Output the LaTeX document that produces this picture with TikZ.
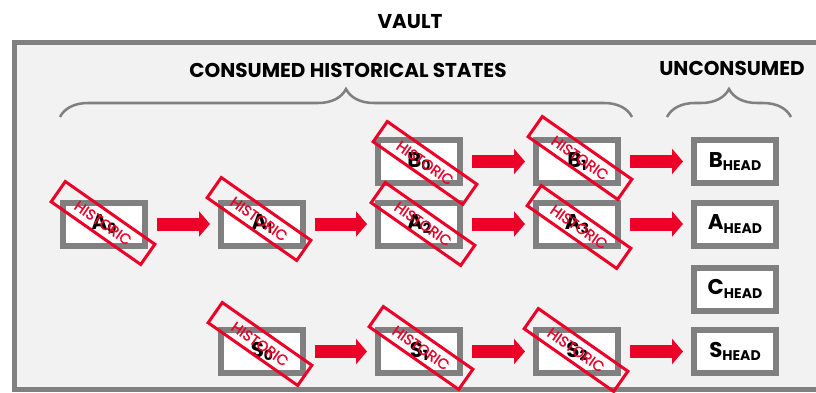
\documentclass[tikz,border=0pt]{standalone}
\usepackage{fontspec}
\setmainfont{Poppins}
\usetikzlibrary{arrows.meta,decorations.pathreplacing}
\definecolor{vaultgray}{RGB}{128,128,128}
\definecolor{vaultfill}{RGB}{242,242,242}
\definecolor{stampred}{RGB}{236,0,40}
\newcommand\statelabel[2]{#1\raisebox{-0.3ex}{\fontsize{10.5}{10.5}\selectfont #2}}
\begin{document}
\begin{tikzpicture}[x=0.75pt,y=0.75pt,
  statebox/.style={draw=vaultgray,line width=4.5pt,fill=white,minimum width=61.5pt,
    minimum height=32.25pt,inner sep=0pt,outer sep=2.25pt,font=\bfseries\fontsize{16}{16}\selectfont},
  stamp/.style={draw=stampred,line width=2.25pt,minimum width=82pt,minimum height=18.5pt,
    inner sep=0pt,rotate=-35,text=stampred,font=\fontsize{11}{11}\selectfont\addfontfeatures{FakeBold=1.2}},
  flow/.style={draw=stampred,line width=9.75pt,-{Triangle[length=8.25pt,width=18.75pt]},
    shorten <=6.75pt,shorten >=6pt},
  heading/.style={font=\bfseries\fontsize{15}{15}\selectfont},
  bracket/.style={draw=vaultgray,line width=1.9pt,decorate,decoration={brace,amplitude=21pt}}]
\clip (0,0) rectangle (816,-392);
\fill[white] (0,0) rectangle (816,-392);
\draw[vaultgray,line width=3.75pt,fill=vaultfill] (14.5,-42.5) rectangle (840,-389.5);
\node[heading] (vault) at (410,-22) {VAULT};
\node[heading] (consumed) at (348,-70) {CONSUMED HISTORICAL STATES};
\node[heading] (unconsumed) at (732,-68) {UNCONSUMED};
\draw[bracket] (60,-117) -- (632,-117);
\draw[bracket] (667,-117) -- (791,-117);

\foreach \nm/\xx/\yy/\ltr/\sub in {b0/419/161.5/B/0,b1/577/161.5/B/1,bh/735/161.5/B/HEAD,
    a0/104/224/A/0,a1/262/224/A/1,a2/419/224/A/2,a3/577/224/A/3,ah/735/224/A/HEAD,
    ch/735/289/C/HEAD,
    s0/262/351.5/S/0,s1/419/351.5/S/1,s2/577/351.5/S/2,sh/735/351.5/S/HEAD} {
  \node[statebox] (\nm) at (\xx,-\yy) {\statelabel{\ltr}{\sub}};
}

\foreach \from/\to in {b0/b1,b1/bh,a0/a1,a1/a2,a2/a3,a3/ah,s0/s1,s1/s2,s2/sh} {
  \draw[flow] (\from.east) -- (\to.west);
}

\foreach \nm/\xx/\yy in {b0/425/163,b1/580/158,a0/103/223,a1/259/219,a2/423/224,
    a3/579/227,s0/260/344,s1/421/348,s2/576/350} {
  \node[stamp] (h\nm) at (\xx,-\yy) {HISTORIC};
}
\end{tikzpicture}
\end{document}
